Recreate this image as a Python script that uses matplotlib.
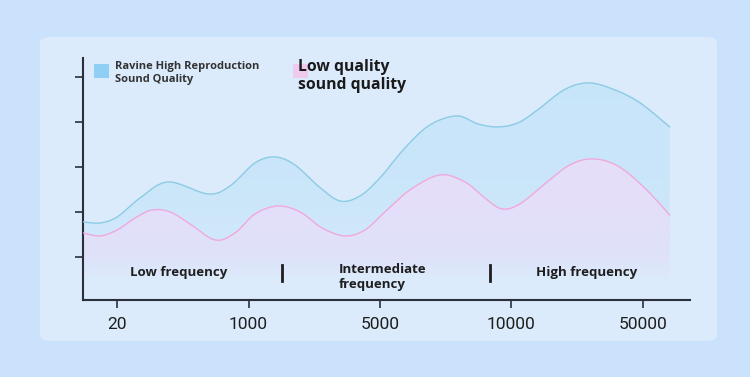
import numpy as np
import matplotlib
matplotlib.use('Agg')
import matplotlib.pyplot as plt
from matplotlib.patches import FancyBboxPatch, Rectangle

# data (x in category units, 0 = "20" ... 4 = "50000")
tick_labels = ['20', '1000', '5000', '10000', '50000']
hifi_x = [-0.259, -0.129, 0.0, 0.175, 0.388, 0.692, 0.859, 1.049, 1.202,
          1.354, 1.529, 1.696, 1.848, 2.0, 2.19, 2.38, 2.586, 2.745, 2.897,
          3.049, 3.2, 3.4, 3.574, 3.749, 3.97, 4.205]
hifi_y = [1.778, 1.756, 1.889, 2.311, 2.667, 2.4, 2.578, 3.089, 3.222,
          3.044, 2.578, 2.244, 2.356, 2.756, 3.422, 3.933, 4.133, 3.956, 3.889,
          3.978, 4.267, 4.711, 4.867, 4.756, 4.444, 3.889]
lofi_x = [-0.259, -0.129, 0.0, 0.137, 0.266, 0.403, 0.555, 0.745, 0.897, 1.049,
          1.224, 1.392, 1.559, 1.734, 1.886, 2.038, 2.228, 2.456, 2.646, 2.798,
          2.928, 3.065, 3.255, 3.445, 3.62, 3.81, 4.015, 4.205]
lofi_y = [1.533, 1.467, 1.6, 1.867, 2.044, 2.0, 1.733, 1.378, 1.533, 1.956,
          2.133, 2.0, 1.644, 1.467, 1.6, 2.0, 2.489, 2.822, 2.667, 2.311,
          2.067, 2.178, 2.622, 3.044, 3.178, 3.022, 2.533, 1.933]
region_labels = ['Low frequency', 'Intermediate\nfrequency', 'High frequency']
region_x = [0.47, 1.688, 3.574]
divider_x = [1.255, 2.836]


def smooth(xs, ys, n=20):
    # catmull-rom through the read points, only for drawing
    p = np.column_stack([xs, ys])
    p = np.vstack([p[0], p, p[-1]])
    out = []
    t = np.linspace(0, 1, n, endpoint=False)[:, None]
    for i in range(1, len(p) - 2):
        p0, p1, p2, p3 = p[i - 1], p[i], p[i + 1], p[i + 2]
        seg = 0.5 * ((2 * p1) + (-p0 + p2) * t + (2 * p0 - 5 * p1 + 4 * p2 - p3) * t ** 2
                     + (-p0 + 3 * p1 - 3 * p2 + p3) * t ** 3)
        out.append(seg)
    out.append(p[-2][None, :])
    out = np.vstack(out)
    return out[:, 0], out[:, 1]


plt.rcParams['font.family'] = ['Open Sans', 'DejaVu Sans']

fig = plt.figure(figsize=(7.5, 3.77), dpi=100)
fig.patch.set_facecolor('#cae2fb')
panel = FancyBboxPatch((40 / 750, 1 - 341 / 377), 677 / 750, 304 / 377,
                       boxstyle='round,pad=0,rounding_size=0.015',
                       transform=fig.transFigure, facecolor='#dbebfc',
                       edgecolor='none', zorder=-10)
fig.patches.append(panel)

ax = fig.add_axes([83 / 750, 1 - 300 / 377, 607 / 750, 242 / 377], zorder=1)
ax.set_facecolor('none')
ymin, ymax = 0.044, 5.42


def grad_fill(xs, ys, rgb, stops_y, stops_a):
    poly = ax.fill_between(xs, ys, ymin, facecolor='none', edgecolor='none')
    top = max(ys)
    yy = np.linspace(top, ymin, 256)
    grad = np.zeros((256, 1, 4))
    grad[:, 0, :3] = rgb
    grad[:, 0, 3] = np.interp(yy, stops_y, stops_a)
    im = ax.imshow(grad, extent=[min(xs), max(xs), ymin, top], origin='upper',
                   aspect='auto', zorder=1)
    im.set_clip_path(poly.get_paths()[0], transform=ax.transData)


bx, by = smooth(hifi_x, hifi_y)
px, py = smooth(lofi_x, lofi_y)
grad_fill(bx, by, (0.72, 0.88, 0.97), [0.6, 1.2, 2.5, 5.0], [0.0, 0.3, 0.45, 0.55])
grad_fill(px, py, (0.92, 0.87, 0.98), [0.5, 1.0, 2.0, 3.3], [0.0, 0.55, 0.8, 0.85])
ax.plot(bx, by, color='#8ccbe4', lw=1.0, zorder=3)
ax.plot(px, py, color='#efa9dc', lw=1.0, zorder=3)
ax.set_xlim(-0.26, 4.36)
ax.set_ylim(ymin, ymax)

for s in ['top', 'right']:
    ax.spines[s].set_visible(False)
for s in ['left', 'bottom']:
    ax.spines[s].set_color('#2b2f3a')
    ax.spines[s].set_linewidth(1.5)
ax.set_yticks([1, 2, 3, 4, 5])
ax.set_yticklabels([])
ax.set_xticks(range(len(tick_labels)))
ax.set_xticklabels(tick_labels, family=['Roboto', 'DejaVu Sans'],
                   fontsize=12.5, color='#1e1e1e')
ax.tick_params(axis='both', length=6, width=1.2, color='#2b2f3a', pad=6)

for lab, x in zip(region_labels, region_x):
    two = '\n' in lab
    ax.text(x, 0.56 if two else 0.644, lab, ha='left' if two else 'center',
            va='center', fontsize=9.5, fontweight='bold', color='#1e1e1e',
            linespacing=1.25)
for x in divider_x:
    ax.plot([x, x], [0.47, 0.82], color='#1e1e1e', lw=2)

# legend
fig.patches.append(Rectangle((94 / 750, 1 - 78 / 377), 15 / 750, 14 / 377,
                             transform=fig.transFigure, facecolor='#90cff4',
                             edgecolor='none'))
fig.text(115 / 750, 1 - 73 / 377, 'Ravine High Reproduction\nSound Quality',
         fontsize=8, fontweight='bold', color='#333333', va='center',
         linespacing=1.15)
fig.patches.append(Rectangle((293 / 750, 1 - 78 / 377), 15 / 750, 14 / 377,
                             transform=fig.transFigure, facecolor='#f0c9ee',
                             edgecolor='none'))
fig.text(298 / 750, 1 - 76 / 377, 'Low quality\nsound quality',
         fontsize=11.3, fontweight='bold', color='#1a1a1a', va='center',
         linespacing=1.1)

fig.savefig('out.png', dpi=100, facecolor=fig.get_facecolor())
